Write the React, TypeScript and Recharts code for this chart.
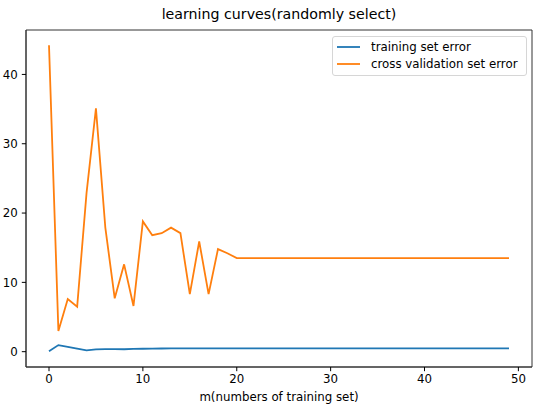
import { LineChart, Line, XAxis, YAxis, ReferenceArea } from "recharts";

const BLUE = "#1f77b4";
const ORANGE = "#ff7f0e";
const FONT = "'DejaVu Sans', sans-serif";

// training set size index
const m = [
  0, 1, 2, 3, 4, 5, 6, 7, 8, 9, 10, 11, 12, 13, 14, 15, 16, 17, 18, 19, 20, 21, 22, 23, 24,
  25, 26, 27, 28, 29, 30, 31, 32, 33, 34, 35, 36, 37, 38, 39, 40, 41, 42, 43, 44, 45, 46, 47,
  48, 49,
];

const trainError = [
  0.05, 0.95, 0.7, 0.45, 0.2, 0.32, 0.38, 0.36, 0.35, 0.4, 0.42, 0.45, 0.46, 0.47, 0.47, 0.47,
  0.47, 0.47, 0.47, 0.47, 0.47, 0.47, 0.47, 0.47, 0.47, 0.47, 0.47, 0.47, 0.47, 0.47, 0.47,
  0.47, 0.47, 0.47, 0.47, 0.47, 0.47, 0.47, 0.47, 0.47, 0.47, 0.47, 0.47, 0.47, 0.47, 0.47,
  0.47, 0.47, 0.47, 0.47,
];

const cvError = [
  44.2, 3.0, 7.6, 6.5, 22.9, 35.1, 17.9, 7.7, 12.6, 6.6, 18.8, 16.8, 17.1, 17.9, 17.1, 8.3,
  15.9, 8.3, 14.8, 14.2, 13.5, 13.5, 13.5, 13.5, 13.5, 13.5, 13.5, 13.5, 13.5, 13.5, 13.5,
  13.5, 13.5, 13.5, 13.5, 13.5, 13.5, 13.5, 13.5, 13.5, 13.5, 13.5, 13.5, 13.5, 13.5, 13.5,
  13.5, 13.5, 13.5, 13.5,
];

const seriesNames = ["training set error", "cross validation set error"];
const xTicks = [0, 10, 20, 30, 40, 50];
const yTicks = [0, 10, 20, 30, 40];
const xDomain: [number, number] = [-2.45, 51.45];
const yDomain: [number, number] = [-2.21, 46.41];

const data = m.map((x, i) => ({ m: x, train: trainError[i], cv: cvError[i] }));

// matplotlib-ish legend box, upper right
function LegendBox() {
  const rows = [
    { label: seriesNames[0], color: BLUE },
    { label: seriesNames[1], color: ORANGE },
  ];
  return (
    <div
      style={{
        position: "absolute",
        left: 332,
        top: 36,
        width: 195,
        height: 40,
        border: "1px solid #d6d6d6",
        borderRadius: 3,
        background: "rgba(255,255,255,0.8)",
        padding: "1px 0 0 4px",
        fontFamily: FONT,
        fontSize: 11.8,
        color: "#000",
        boxSizing: "border-box",
        whiteSpace: "nowrap",
      }}
    >
      {rows.map((r) => (
        <div key={r.label} style={{ display: "flex", alignItems: "center", height: 17 }}>
          <svg width={23} height={4} style={{ marginRight: 11, display: "block" }}>
            <line x1={0} x2={23} y1={2} y2={2} stroke={r.color} strokeWidth={1.8} />
          </svg>
          <span>{r.label}</span>
        </div>
      ))}
    </div>
  );
}

export default function App() {
  const axisStroke = "#333";
  const tick = { fontSize: 11.8, fill: "#000", fontFamily: FONT };
  return (
    <div style={{ position: "absolute", left: 0, top: 0, width: 541, height: 409, background: "#fff" }}>
      <div
        style={{
          position: "absolute",
          left: 0,
          width: 558,
          top: 6,
          textAlign: "center",
          fontFamily: FONT,
          fontSize: 14.2,
          color: "#000",
          whiteSpace: "nowrap",
        }}
      >
        learning curves(randomly select)
      </div>
      <LineChart width={541} height={409} data={data} margin={{ top: 30, right: 9, bottom: 0, left: 0 }}>
        <XAxis
          dataKey="m"
          type="number"
          domain={xDomain}
          ticks={xTicks}
          allowDataOverflow
          height={42}
          tickSize={4.2}
          tickMargin={3.5}
          tick={tick}
          stroke={axisStroke}
          tickLine={{ stroke: "#000" }}
          label={{ value: "m(numbers of training set)", position: "insideBottom", offset: 8.5, fontSize: 11.8, fill: "#000", fontFamily: FONT }}
        />
        <YAxis
          type="number"
          domain={yDomain}
          ticks={yTicks}
          allowDataOverflow
          width={26}
          tickSize={4.2}
          tickMargin={4}
          tick={tick}
          stroke={axisStroke}
          tickLine={{ stroke: "#000" }}
        />
        <ReferenceArea
          x1={xDomain[0]}
          x2={xDomain[1]}
          y1={yDomain[0]}
          y2={yDomain[1]}
          fill="none"
          stroke={axisStroke}
          strokeWidth={1}
          ifOverflow="visible"
        />
        <Line
          type="linear"
          dataKey="train"
          name={seriesNames[0]}
          stroke={BLUE}
          strokeWidth={1.8}
          dot={false}
          isAnimationActive={false}
        />
        <Line
          type="linear"
          dataKey="cv"
          name={seriesNames[1]}
          stroke={ORANGE}
          strokeWidth={1.8}
          dot={false}
          isAnimationActive={false}
        />
      </LineChart>
      <LegendBox />
    </div>
  );
}
